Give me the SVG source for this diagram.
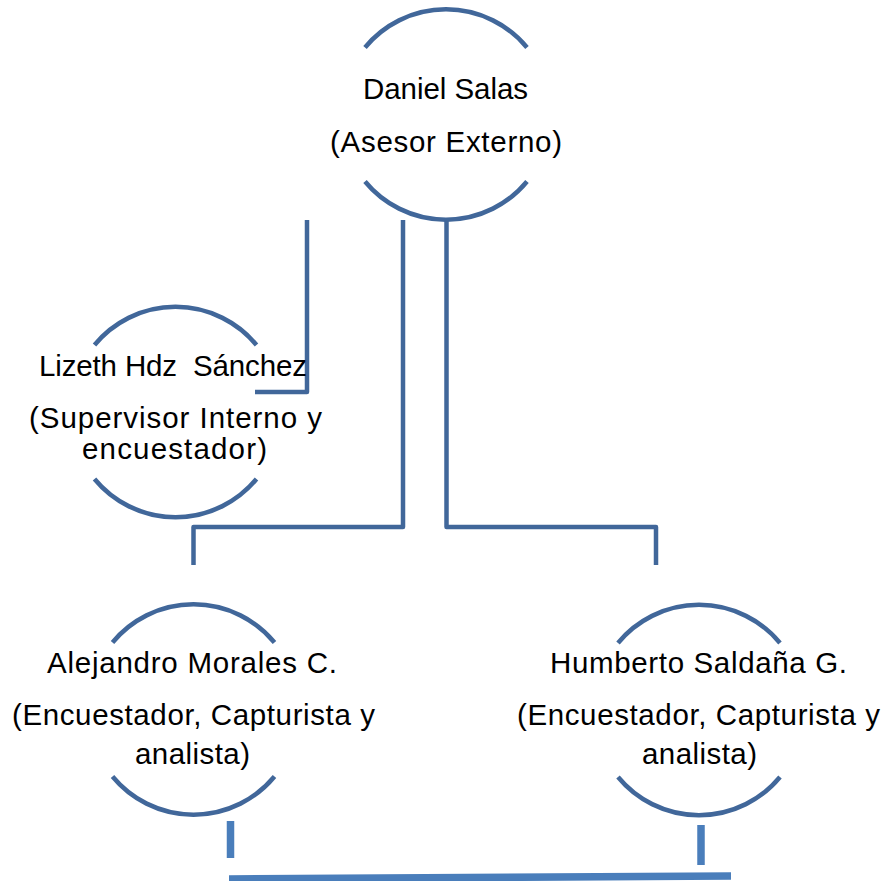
<svg xmlns="http://www.w3.org/2000/svg" width="886" height="881" viewBox="0 0 886 881">
<style>
  .arc{fill:none;stroke:#41679A;stroke-width:4.5}
  .con{fill:none;stroke:#41679A;stroke-width:4.5;stroke-linejoin:round}
  .con2{fill:none;stroke:#4A7EBB;stroke-width:7.5}
  text{font-family:"Liberation Sans",Arial,sans-serif;font-size:29.5px;fill:#000;text-anchor:middle}
</style>
<rect width="886" height="881" fill="#fff"/>
<g id="connectors">
  <path class="con" d="M307,220 V392 H255"/>
  <path class="con" d="M403,220 V527 H193.5 V565"/>
  <path class="con" d="M446.5,220 V527 H656 V565"/>
  <path class="con2" d="M230.5,821 V858"/>
  <path class="con2" d="M701,825 V865"/>
  <path class="con2" d="M229,879 L731,876"/>
</g>
<g id="daniel">
  <path class="arc" d="M365,47.5 A105 105 0 0 1 527,47.5"/>
  <path class="arc" d="M365,181.5 A105 105 0 0 0 527,181.5"/>
  <text x="445.5" y="99" textLength="165">Daniel Salas</text>
  <text x="446" y="152" textLength="232">(Asesor Externo)</text>
</g>
<g id="lizeth">
  <path class="arc" d="M94.5,345 A105 105 0 0 1 256.5,345"/>
  <path class="arc" d="M94.5,479 A105 105 0 0 0 256.5,479"/>
  <text x="173" y="376" textLength="268" xml:space="preserve">Lizeth Hdz  Sánchez</text>
  <text x="175.5" y="428" textLength="293">(Supervisor Interno y</text>
  <text x="174.5" y="459" textLength="185">encuestador)</text>
</g>
<g id="alejandro">
  <path class="arc" d="M112.5,642.5 A105 105 0 0 1 274.5,642.5"/>
  <path class="arc" d="M112.5,776.5 A105 105 0 0 0 274.5,776.5"/>
  <text x="192" y="673" textLength="290">Alejandro Morales C.</text>
  <text x="193.5" y="725" textLength="363">(Encuestador, Capturista y</text>
  <text x="192.5" y="764" textLength="115">analista)</text>
</g>
<g id="humberto">
  <path class="arc" d="M618,643 A105 105 0 0 1 780,643"/>
  <path class="arc" d="M618,777 A105 105 0 0 0 780,777"/>
  <text x="698.5" y="673" textLength="297">Humberto Saldaña G.</text>
  <text x="698.5" y="725" textLength="363">(Encuestador, Capturista y</text>
  <text x="699.5" y="764" textLength="115">analista)</text>
</g>
</svg>
